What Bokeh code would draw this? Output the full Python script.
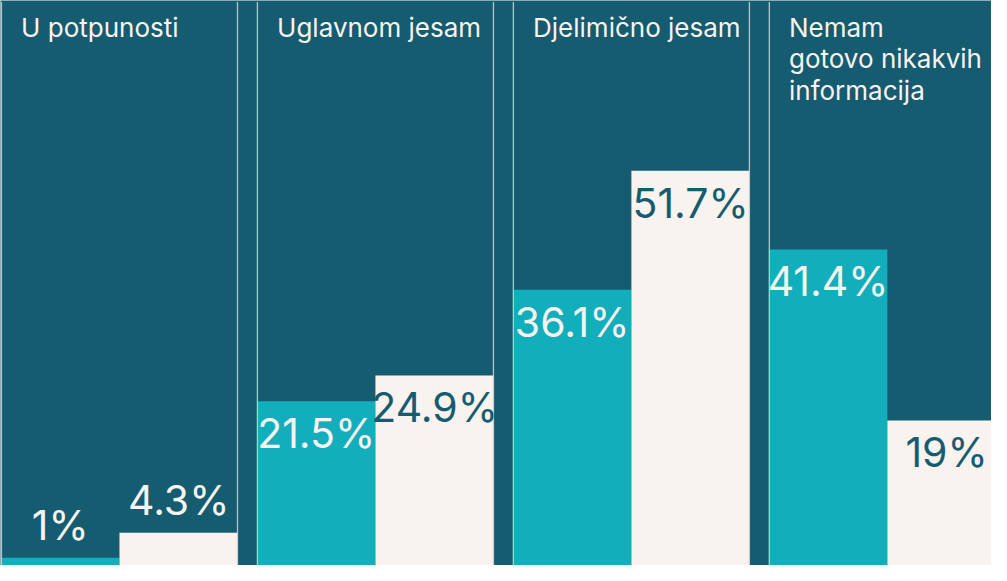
from bokeh.plotting import figure
from bokeh.models import ColumnDataSource, Range1d
from bokeh.core.properties import value
from bokeh.embed import file_html
from bokeh.resources import INLINE

# ---- data ----
groups = ["U potpunosti", "Uglavnom jesam", "Djelimično jesam", "Nemam\ngotovo nikakvih\ninformacija"]
series_a = [1, 21.5, 36.1, 41.4]      # teal bars
series_b = [4.3, 24.9, 51.7, 19]      # cream bars
labels_a = ["1%", "21.5%", "36.1%", "41.4%"]
labels_b = ["4.3%", "24.9%", "51.7%", "19%"]

# ---- style ----
BG = "#165c70"
TEAL = "#13aebb"
CREAM = "#f8f3ee"
LINE = "#c3d0d5"
FONT = "Inter"

W, H = 991, 565
GAP = 0.16           # gap between groups, in bar widths
BAR_PX = 118.5
X_START = -0.004
X_END = X_START + W / BAR_PX
Y_END = 74.0
INSIDE_MIN = 10      # labels go inside bars taller than this

p = figure(width=W, height=H, output_backend="svg", toolbar_location=None,
           x_range=Range1d(X_START, X_END), y_range=Range1d(0, Y_END),
           min_border=0)
p.background_fill_color = BG
p.border_fill_color = BG
p.outline_line_color = None
p.axis.visible = False
p.grid.visible = False

starts = [i * (2 + GAP) for i in range(len(groups))]
xa = [s + 0.5 for s in starts]
xb = [s + 1.5 for s in starts]

p.vbar(x=xa, top=series_a, bottom=0, width=1.0, fill_color=TEAL, line_color=None)
p.vbar(x=xb, top=series_b, bottom=0, width=1.0, fill_color=CREAM, line_color=None)

# panel border lines
line_x = []
for s in starts:
    line_x += [s + 0.004, s + 2 - 0.004]
p.segment(x0=line_x, x1=line_x, y0=[0] * len(line_x), y1=[Y_END - 0.2] * len(line_x),
          line_color=LINE, line_width=1.3, line_alpha=0.9)

# group titles
p.text(x=[s + 0.17 for s in starts], y=[Y_END] * len(groups), text=groups,
       text_font=value(FONT), text_font_size="26px", text_color=CREAM,
       text_baseline="top", text_align="left", y_offset=11, text_line_height=1.03)

# value labels
def add_labels(xs, vals, labs, inside_color):
    inside = [v >= INSIDE_MIN for v in vals]
    src_in = ColumnDataSource(dict(x=[x for x, f in zip(xs, inside) if f],
                                   y=[v for v, f in zip(vals, inside) if f],
                                   t=[l for l, f in zip(labs, inside) if f]))
    src_out = ColumnDataSource(dict(x=[x for x, f in zip(xs, inside) if not f],
                                    y=[v for v, f in zip(vals, inside) if not f],
                                    t=[l for l, f in zip(labs, inside) if not f]))
    p.text(x="x", y="y", text="t", source=src_in, text_font=value(FONT),
           text_font_size="41px", text_color=inside_color, text_align="center",
           text_baseline="top", y_offset=7)
    p.text(x="x", y="y", text="t", source=src_out, text_font=value(FONT),
           text_font_size="41px", text_color=CREAM, text_align="center",
           text_baseline="bottom", y_offset=-8)

add_labels(xa, series_a, labels_a, CREAM)
add_labels(xb, series_b, labels_b, BG)

open("out.html", "w").write(file_html(p, INLINE))
